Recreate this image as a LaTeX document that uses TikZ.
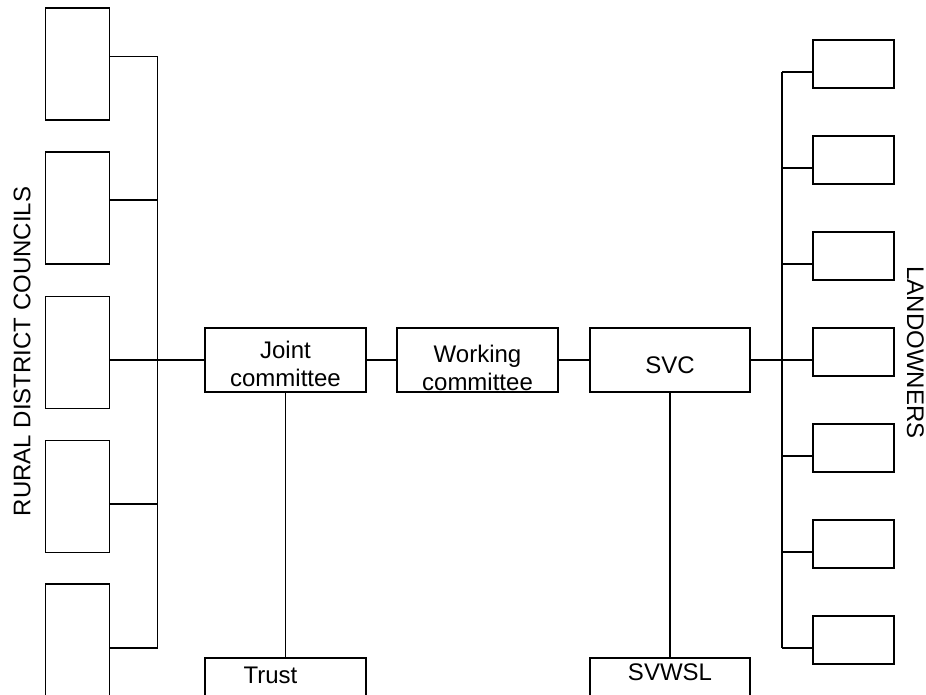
\documentclass[tikz,border=0pt]{standalone}
\usepackage{fontspec}
\setmainfont{Liberation Sans}
\begin{document}
\begin{tikzpicture}[x=1pt,y=-1pt,
  line width=1.7pt,
  unitbox/.style={draw,line width=1.7pt,inner sep=0pt,outer sep=0pt},
  sidebox/.style={unitbox,minimum width=64pt,minimum height=112pt},
  ownerbox/.style={unitbox,minimum width=81pt,minimum height=48pt},
  bodybox/.style={unitbox,minimum width=161pt,minimum height=64pt},
  lowbox/.style={unitbox,minimum width=161pt,minimum height=72pt},
  lbl/.style={inner sep=0pt,align=center,font=\fontsize{24}{28}\selectfont}]
\path[use as bounding box,clip] (0,0) rectangle (926,694);

% councils on the left
\node[sidebox] (lb1) at (77.5,64) {};
\node[sidebox] (lb2) at (77.5,208) {};
\node[sidebox] (lb3) at (77.5,352.5) {};
\node[sidebox] (lb4) at (77.5,496.5) {};
\node[sidebox,minimum height=130pt] (lb5) at (77.5,649) {};
\node[lbl,rotate=90] (rdc) at (22,351.5) {RURAL DISTRICT COUNCILS};

% left bus
\coordinate (lc1) at (157.5,56.5);
\coordinate (lc2) at (157.5,200);
\coordinate (lc3) at (157.5,360);
\coordinate (lc4) at (157.5,504);
\coordinate (lc5) at (157.5,648);
\draw (lc1) -- (lc5);
\foreach \i in {1,2,4,5} \draw (lc\i -| lb\i.east) -- (lc\i);

% central chain
\node[bodybox] (jc) at (285.5,360) {};
\node[lbl] (jct) at (285.5,363.5) {Joint\\committee};
\node[bodybox] (wc) at (477.5,360) {};
\node[lbl] (wct) at (477.5,367.5) {Working\\committee};
\node[bodybox,minimum width=160pt] (svc) at (670,360) {};
\node[lbl] (svct) at (670,365.5) {SVC};
\node[lowbox] (trust) at (285.5,694) {};
\node[lbl] (trustt) at (270.5,675) {Trust};
\node[lowbox,minimum width=160pt] (svwsl) at (670,694) {};
\node[lbl] (svwslt) at (670,672) {SVWSL};

\draw (lc3 -| lb3.east) -- (jc.west);
\draw (jc.east) -- (wc.west);
\draw (wc.east) -- (svc.west);
\draw (jc.south) -- (trust.north);
\draw (svc.south) -- (svwsl.north);

% landowners on the right
\foreach \i in {1,...,7} {
  \node[ownerbox] (ld\i) at (853.5,{64+96*(\i-1)}) {};
  \coordinate (rc\i) at (782,{72+96*(\i-1)});
  \draw (rc\i) -- (rc\i -| ld\i.west);
}
\draw (rc1) -- (rc7);
\draw (svc.east) -- (rc4);
\node[lbl,rotate=-90] (lo) at (915.5,352.5) {LANDOWNERS};
\end{tikzpicture}
\end{document}
